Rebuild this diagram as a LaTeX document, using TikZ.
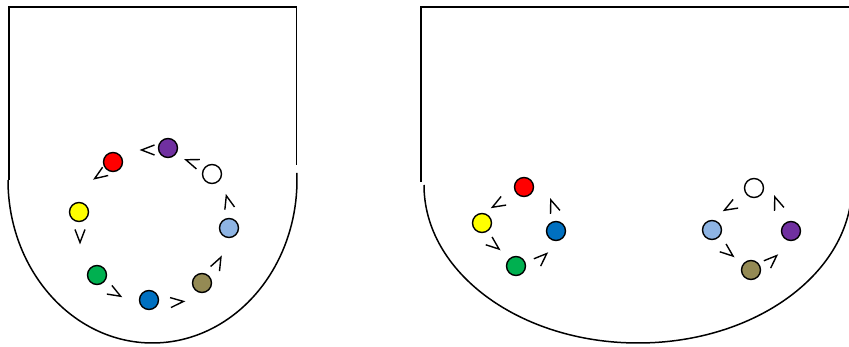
\documentclass[tikz,border=0pt]{standalone}
\definecolor{cpurple}{HTML}{7030A0}
\definecolor{cred}{HTML}{FF0000}
\definecolor{cyellow}{HTML}{FFFF00}
\definecolor{cgreen}{HTML}{00B050}
\definecolor{cblue}{HTML}{0070C0}
\definecolor{colive}{HTML}{948A54}
\definecolor{clblue}{HTML}{8EB4E3}
\tikzset{
  outline/.style={line width=1.5pt, draw=black},
  ball/.style={circle, draw=black, line width=1.4pt, minimum size=19pt, inner sep=0pt},
  chev/.pic={\draw[line width=1.4pt, line join=miter] (-6.5,-5) -- (6.5,0) -- (-6.5,5);}
}
\begin{document}
\begin{tikzpicture}[x=1pt,y=-1pt]
\useasboundingbox (0,0) rectangle (849,347);
\clip (0,0) rectangle (849,347);
% left outline
\draw[outline] (9,180) -- (9,7) -- (296.5,7) -- (296.5,165);
\draw[outline] (8,180) arc[start angle=180, end angle=-2.5, x radius=144.5, y radius=163];
% right outline
\draw[outline] (421,182) -- (421,7) -- (860,7);
\draw[outline] (424,185) arc[start angle=180, end angle=0, x radius=214, y radius=158];
% left circle of balls
\node[ball, fill=cpurple] (p1) at (168,148) {};
\node[ball, fill=cred] (r1) at (113,162) {};
\node[ball, fill=cyellow] (y1) at (79,212) {};
\node[ball, fill=cgreen] (g1) at (97,275) {};
\node[ball, fill=cblue] (b1) at (149,300) {};
\node[ball, fill=colive] (o1) at (202,283) {};
\node[ball, fill=clblue] (l1) at (229,228) {};
\node[ball, fill=white] (w1) at (212,174) {};
\pic[rotate=180] at (148,150) {chev};
\pic[rotate=160] at (192,162) {chev};
\pic[rotate=214] at (100,175) {chev};
\pic[rotate=270] at (80,236) {chev};
\pic[rotate=-30] at (115,293) {chev};
\pic[rotate=5] at (177,302) {chev};
\pic[rotate=63] at (218,263) {chev};
\pic[rotate=105] at (228,202) {chev};
% right diagram, left cluster
\node[ball, fill=cred] (r2) at (524,187) {};
\node[ball, fill=cyellow] (y2) at (482,223) {};
\node[ball, fill=cblue] (b2) at (556,231) {};
\node[ball, fill=cgreen] (g2) at (516,266) {};
\pic[rotate=210] at (498,204) {chev};
\pic[rotate=-39] at (494,245) {chev};
\pic[rotate=43] at (542,258) {chev};
\pic[rotate=110] at (553,206) {chev};
% right diagram, right cluster
\node[ball, fill=white] (w2) at (754,188) {};
\node[ball, fill=clblue] (l2) at (712,230) {};
\node[ball, fill=cpurple] (p2) at (791,231) {};
\node[ball, fill=colive] (o2) at (751,270) {};
\pic[rotate=210] at (730,207) {chev};
\pic[rotate=-39] at (728,252) {chev};
\pic[rotate=43] at (772,260) {chev};
\pic[rotate=110] at (777,203) {chev};
\end{tikzpicture}
\end{document}
